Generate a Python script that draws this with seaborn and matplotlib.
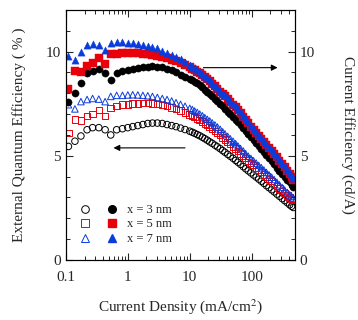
import numpy as np
import pandas as pd
import seaborn as sns
import matplotlib.pyplot as plt
from matplotlib.ticker import FixedLocator, NullFormatter, MultipleLocator

# current density (mA/cm2), shared by all series
current_density = [0.11, 0.14, 0.175, 0.22, 0.27, 0.34, 0.43, 0.53, 0.66, 0.82,
                   1.0, 1.2, 1.45, 1.75, 2.1, 2.5, 3.0, 3.6, 4.3, 5.1,
                   6.0, 7.1, 8.4,
                   10, 11, 12, 13.2, 14.5, 16, 17.5, 19.2, 21, 23,
                   25.5, 28, 31, 34, 37, 41, 45, 50, 55, 60,
                   66, 73, 80, 88, 97, 107, 118, 130, 143, 157,
                   173, 190, 210, 230, 255, 280, 310, 340, 375, 410,
                   440, 470]

# external quantum efficiency (%), open symbols, left axis
eqe_3nm = [5.45, 5.7, 5.95, 6.25, 6.35, 6.35, 6.25, 6.0, 6.25, 6.3,
           6.35, 6.4, 6.45, 6.5, 6.55, 6.57, 6.57, 6.55, 6.5, 6.45,
           6.4, 6.33, 6.26,
           6.18, 6.13, 6.08, 6.02, 5.96, 5.89, 5.82, 5.75, 5.67, 5.6,
           5.51, 5.43, 5.34, 5.25, 5.17, 5.07, 4.98, 4.88, 4.78, 4.69,
           4.59, 4.48, 4.38, 4.28, 4.18, 4.08, 3.98, 3.88, 3.78, 3.68,
           3.57, 3.47, 3.37, 3.27, 3.16, 3.06, 2.95, 2.85, 2.75, 2.65,
           2.58, 2.52]
eqe_5nm = [6.1, 6.75, 6.7, 6.9, 7.0, 7.2, 6.9, 7.3, 7.4, 7.45,
           7.45, 7.5, 7.52, 7.53, 7.53, 7.52, 7.48, 7.43, 7.38, 7.32,
           7.25, 7.17, 7.08,
           6.98, 6.92, 6.86, 6.79, 6.72, 6.64, 6.56, 6.47, 6.38, 6.3,
           6.2, 6.1, 5.99, 5.88, 5.78, 5.67, 5.56, 5.45, 5.34, 5.23,
           5.12, 5.0, 4.89, 4.77, 4.66, 4.55, 4.44, 4.33, 4.22, 4.11,
           4.0, 3.89, 3.78, 3.67, 3.55, 3.44, 3.32, 3.21, 3.1, 3.0,
           2.93, 2.87]
eqe_7nm = [7.45, 7.25, 7.6, 7.7, 7.75, 7.72, 7.6, 7.85, 7.9, 7.9,
           7.92, 7.93, 7.92, 7.9, 7.88, 7.85, 7.8, 7.75, 7.7, 7.63,
           7.55, 7.47, 7.38,
           7.28, 7.22, 7.15, 7.08, 7.0, 6.92, 6.83, 6.75, 6.67, 6.58,
           6.48, 6.38, 6.27, 6.15, 6.05, 5.93, 5.82, 5.7, 5.58, 5.47,
           5.35, 5.23, 5.1, 4.98, 4.87, 4.76, 4.65, 4.54, 4.43, 4.32,
           4.2, 4.09, 3.97, 3.86, 3.73, 3.61, 3.48, 3.36, 3.24, 3.13,
           3.05, 2.98]

# current efficiency (cd/A), filled symbols, right axis
ce_3nm = [7.6, 8.0, 8.5, 8.95, 9.05, 9.15, 8.95, 8.65, 8.95, 9.05,
          9.1, 9.15, 9.2, 9.25, 9.28, 9.3, 9.28, 9.25, 9.18, 9.1,
          9.0, 8.9, 8.8,
          8.7, 8.63, 8.55, 8.47, 8.38, 8.28, 8.18, 8.07, 7.96, 7.85,
          7.73, 7.61, 7.49, 7.37, 7.25, 7.12, 6.99, 6.85, 6.73, 6.6,
          6.48, 6.35, 6.2, 6.05, 5.9, 5.75, 5.6, 5.45, 5.32, 5.18,
          5.03, 4.9, 4.75, 4.6, 4.42, 4.28, 4.13, 3.99, 3.85, 3.72,
          3.6, 3.48]
ce_5nm = [8.2, 9.05, 9.0, 9.3, 9.45, 9.7, 9.4, 9.9, 9.9, 9.95,
          9.95, 9.95, 9.93, 9.9, 9.88, 9.85, 9.8, 9.75, 9.7, 9.6,
          9.55, 9.45, 9.35,
          9.25, 9.18, 9.1, 9.03, 8.95, 8.87, 8.78, 8.67, 8.57, 8.45,
          8.33, 8.2, 8.08, 7.95, 7.85, 7.72, 7.59, 7.45, 7.33, 7.2,
          7.03, 6.88, 6.73, 6.55, 6.4, 6.25, 6.1, 5.95, 5.82, 5.68,
          5.53, 5.39, 5.25, 5.1, 4.92, 4.77, 4.6, 4.45, 4.28, 4.12,
          3.98, 3.85]
ce_7nm = [9.8, 9.6, 10.0, 10.3, 10.35, 10.3, 10.1, 10.4, 10.45, 10.45,
          10.4, 10.4, 10.35, 10.3, 10.25, 10.2, 10.15, 10.05, 9.95, 9.85,
          9.75, 9.65, 9.5,
          9.35, 9.28, 9.2, 9.12, 9.03, 8.94, 8.85, 8.73, 8.62, 8.5,
          8.38, 8.25, 8.13, 8.0, 7.9, 7.77, 7.64, 7.5, 7.38, 7.25,
          7.08, 6.93, 6.78, 6.6, 6.45, 6.3, 6.15, 6.0, 5.87, 5.73,
          5.58, 5.44, 5.3, 5.15, 4.97, 4.82, 4.65, 4.5, 4.33, 4.17,
          4.05, 3.95]

labels = ["x = 3 nm", "x = 5 nm", "x = 7 nm"]
colors = ["black", "#e8000b", "#0a3cdc"]
markers = ["o", "s", "^"]

sns.set_style("ticks")
plt.rcParams["font.family"] = ["Liberation Serif", "DejaVu Serif"]
plt.rcParams["mathtext.fontset"] = "stix"

fig = plt.figure(figsize=(3.58, 3.2), dpi=100)
ax = fig.add_axes([0.184, 0.1875, 0.64, 0.7815])
ax2 = ax.twinx()

eqe = [eqe_3nm, eqe_5nm, eqe_7nm]
ce = [ce_3nm, ce_5nm, ce_7nm]

open_handles = []
filled_handles = []
for vals, c, m in zip(eqe, colors, markers):
    df = pd.DataFrame({"J": current_density, "v": vals})
    sns.scatterplot(data=df, x="J", y="v", ax=ax, marker=m, s=22,
                    facecolors="none", edgecolor=c, linewidth=0.7, color=c)
    open_handles.append(plt.Line2D([], [], ls="", marker=m, ms=5.5, mfc="none",
                                   mec=c, mew=0.7))
for vals, c, m in zip(ce, colors, markers):
    df = pd.DataFrame({"J": current_density, "v": vals})
    sns.scatterplot(data=df, x="J", y="v", ax=ax2, marker=m, s=27,
                    color=c, edgecolor=c, linewidth=0.3)
    filled_handles.append(plt.Line2D([], [], ls="", marker=m, ms=5.5, mfc=c,
                                     mec=c))

ax.set_xscale("log")
for a in (ax, ax2):
    a.set_xlim(0.1, 500)
    a.set_ylim(0, 12)
    a.yaxis.set_major_locator(FixedLocator([0, 5, 10]))
    a.yaxis.set_minor_locator(MultipleLocator(1))
    a.tick_params(which="major", direction="in", length=5, width=0.8,
                  labelsize=11, top=True)
    a.tick_params(which="minor", direction="in", length=3, width=0.7, top=True)
    for sp in a.spines.values():
        sp.set_linewidth(0.8)
        sp.set_color("black")
ax.set_xticks([0.1, 1, 10, 100])
ax.set_xticklabels(["0.1", "1", "10", "100"])
ax.xaxis.set_minor_formatter(NullFormatter())
ax.tick_params(axis="x", pad=8)

ax.set_xlabel("Current Density (mA/cm$^2$)", fontsize=11, labelpad=9)
ax.set_ylabel("External Quantum Efficiency ( % )", fontsize=11, labelpad=14)
ax2.set_ylabel("Current Efficiency (cd/A)", fontsize=11, rotation=270,
               labelpad=29)

ax2.annotate("", xy=(0.53, 5.38), xytext=(9.3, 5.38),
             arrowprops=dict(arrowstyle="-|>", color="black", lw=0.8,
                             mutation_scale=9))
ax2.annotate("", xy=(290, 9.23), xytext=(15, 9.23),
             arrowprops=dict(arrowstyle="-|>", color="black", lw=0.8,
                             mutation_scale=9))

ax2.legend(open_handles + filled_handles, ["", "", ""] + labels, ncol=2,
           loc="lower left", bbox_to_anchor=(0.0, 0.015), frameon=False,
           fontsize=9, handletextpad=0.6, columnspacing=0.4,
           labelspacing=0.2, handlelength=1.2)

fig.savefig("out.png", dpi=100)
